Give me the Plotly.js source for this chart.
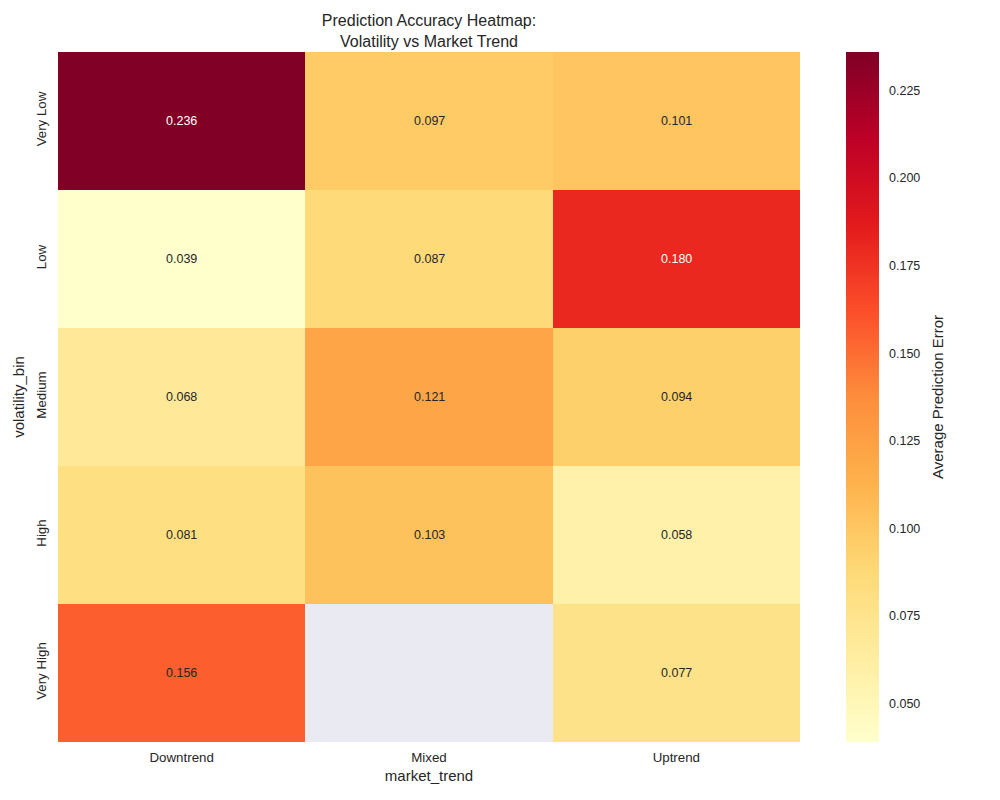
<!DOCTYPE html>
<html>
<head>
<meta charset="utf-8">
<script src="https://cdn.plot.ly/plotly-3.0.1.min.js"></script>
<style>body{margin:0;padding:0;background:#fff}</style>
</head>
<body>
<div id="chart" style="width:1000px;height:800px"></div>
<script>
const marketTrends = ["Downtrend", "Mixed", "Uptrend"];
const volatilityBins = ["Very Low", "Low", "Medium", "High", "Very High"];
const veryLow = [0.236, 0.097, 0.101];
const low = [0.039, 0.087, 0.180];
const medium = [0.068, 0.121, 0.094];
const high = [0.081, 0.103, 0.058];
const veryHigh = [0.156, null, 0.077];
const zValues = [veryLow, low, medium, high, veryHigh];
const cbTicks = [0.05, 0.075, 0.1, 0.125, 0.15, 0.175, 0.2, 0.225];

const ylorrd = [
  [0.0, "#ffffcc"], [0.125, "#ffeda0"], [0.25, "#fed976"], [0.375, "#feb24c"],
  [0.5, "#fd8d3c"], [0.625, "#fc4e2a"], [0.75, "#e31a1c"], [0.875, "#bd0026"], [1.0, "#800026"]
];
const FONT = "Liberation Sans, Arial, sans-serif";

const flat = zValues.flat().filter(v => v !== null);
const zmin = Math.min(...flat), zmax = Math.max(...flat);

const annotations = [];
zValues.forEach((row, i) => {
  row.forEach((v, j) => {
    if (v === null) return;
    const t = (v - zmin) / (zmax - zmin);
    annotations.push({
      x: marketTrends[j], y: volatilityBins[i], xref: "x", yref: "y",
      text: v.toFixed(3), showarrow: false,
      font: {family: FONT, size: 12.5, color: t > 0.6 ? "#ffffff" : "#262626"}
    });
  });
});

const trace = {
  type: "heatmap",
  x: marketTrends,
  y: volatilityBins,
  z: zValues,
  zmin: zmin, zmax: zmax,
  colorscale: ylorrd,
  xgap: 0, ygap: 0,
  hoverongaps: false,
  colorbar: {
    x: 1.062, xanchor: "left", xpad: 0, ypad: 0,
    y: 0.5, yanchor: "middle", len: 1, lenmode: "fraction",
    thickness: 33, outlinewidth: 0,
    tickvals: cbTicks,
    ticktext: cbTicks.map(v => v.toFixed(3) + "\u00a0\u00a0"),
    ticks: "outside", ticklen: 8, tickcolor: "rgba(0,0,0,0)",
    tickfont: {family: FONT, size: 12.5, color: "#262626"},
    title: {text: "Average Prediction Error", side: "right",
      font: {family: FONT, size: 15, color: "#262626"}}
  }
};

const layout = {
  width: 1000, height: 800,
  margin: {l: 58, r: 200, t: 52, b: 58},
  paper_bgcolor: "#ffffff",
  plot_bgcolor: "#EAEAF2",
  title: {
    text: "Prediction Accuracy Heatmap:<br>Volatility vs Market Trend",
    x: (58 + 371) / 1000, xanchor: "center",
    y: 1 - 26 / 800, yanchor: "middle",
    font: {family: FONT, size: 16, color: "#262626"}
  },
  xaxis: {
    showgrid: false, zeroline: false, showline: false, ticks: "",
    ticklabelstandoff: 6,
    tickfont: {family: FONT, size: 13.3, color: "#262626"},
    title: {text: "market_trend", standoff: 6, font: {family: FONT, size: 15, color: "#262626"}}
  },
  yaxis: {
    autorange: "reversed",
    showgrid: false, zeroline: false, showline: false, ticks: "",
    tickangle: -90,
    ticklabelstandoff: 8,
    tickfont: {family: FONT, size: 13.3, color: "#262626"},
    title: {text: "volatility_bin", standoff: 6, font: {family: FONT, size: 15, color: "#262626"}}
  },
  annotations: annotations
};

Plotly.newPlot("chart", [trace], layout, {displayModeBar: false, responsive: false});
</script>
</body>
</html>
